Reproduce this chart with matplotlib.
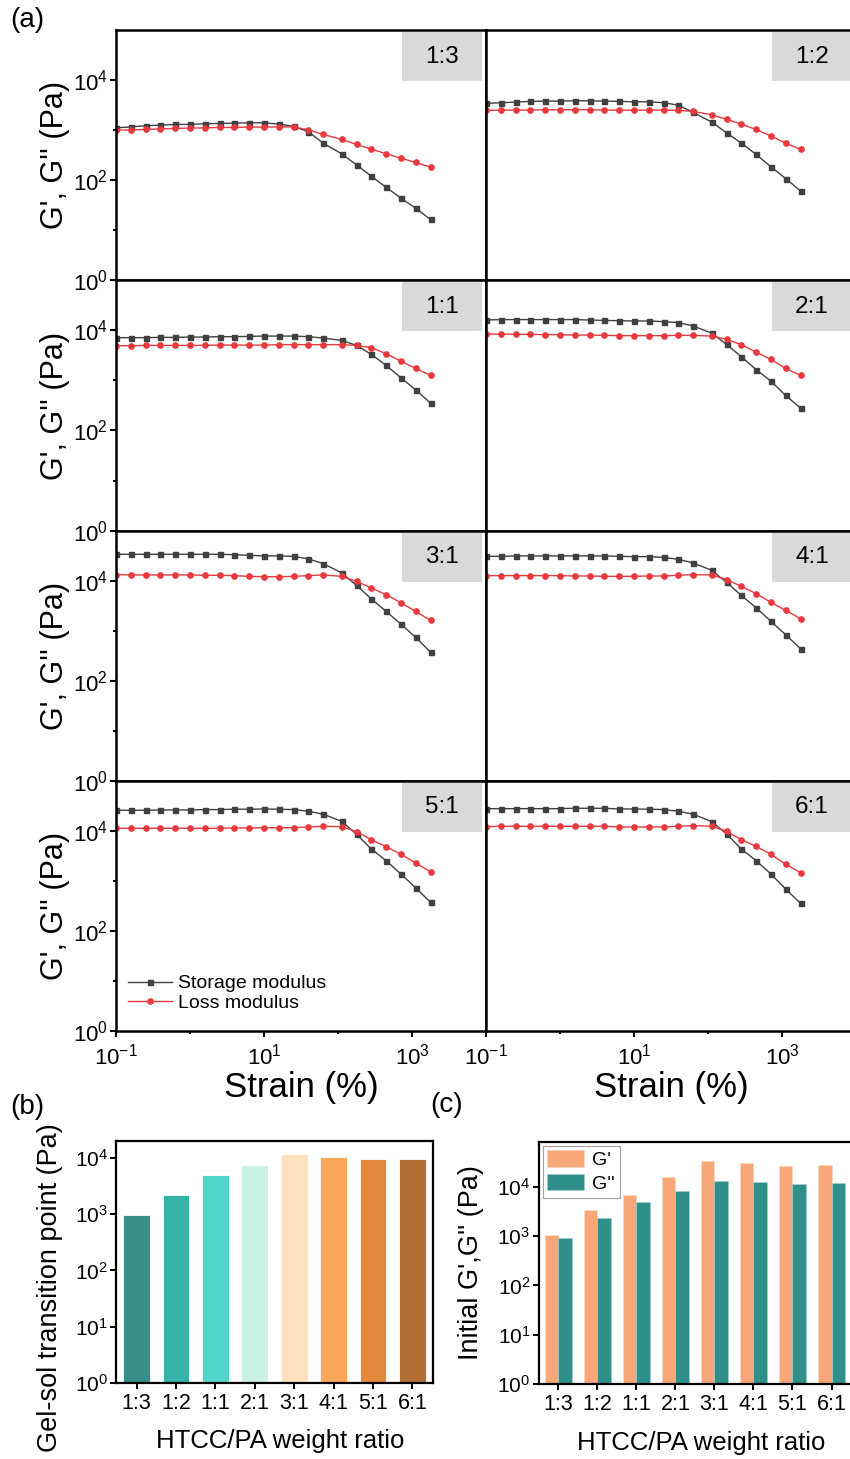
import matplotlib
matplotlib.use("Agg")
import matplotlib.pyplot as plt
from matplotlib.patches import Rectangle
from matplotlib.ticker import FixedLocator, NullFormatter, LogFormatterSciNotation

plt.rcParams["font.family"] = ["Liberation Sans", "DejaVu Sans"]
plt.rcParams["mathtext.fontset"] = "custom"
plt.rcParams["mathtext.rm"] = "Liberation Sans"
plt.rcParams["mathtext.it"] = "Liberation Sans:italic"
plt.rcParams["mathtext.bf"] = "Liberation Sans:bold"

W, H = 850, 1459

ratios = ["1:3", "1:2", "1:1", "2:1", "3:1", "4:1", "5:1", "6:1"]

# strain sweep (%)
strain = [0.1, 0.158, 0.251, 0.398, 0.631, 1.0, 1.58, 2.51, 3.98, 6.31, 10.0,
          15.8, 25.1, 39.8, 63.1, 112, 178, 282, 447, 708, 1120, 1780]

# storage (G') and loss (G'') modulus, Pa
gp_13 = [1110, 1160, 1220, 1260, 1300, 1300, 1340, 1360, 1380, 1400, 1400,
         1320, 1190, 925, 550, 336, 202, 120, 72, 44, 27.5, 16.4]
gpp_13 = [1000, 1010, 1030, 1060, 1080, 1100, 1110, 1130, 1130, 1150, 1150,
          1160, 1160, 1010, 820, 652, 518, 417, 336, 275, 226, 182]
gp_12 = [3420, 3520, 3630, 3750, 3800, 3800, 3860, 3860, 3800, 3750, 3680,
         3680, 3520, 3160, 2260, 1450, 883, 550, 327, 185, 108, 61]
gpp_12 = [2480, 2510, 2510, 2510, 2550, 2550, 2550, 2550, 2510, 2510, 2480,
          2510, 2510, 2480, 2370, 2020, 1640, 1320, 1030, 759, 550, 411]
gp_11 = [7150, 7150, 7150, 7240, 7240, 7350, 7350, 7480, 7480, 7590, 7690,
         7690, 7690, 7480, 7020, 6310, 5010, 3310, 2000, 1130, 652, 352]
gpp_11 = [4940, 4940, 5010, 5010, 5010, 5010, 5010, 5080, 5080, 5080, 5080,
          5180, 5180, 5180, 5180, 5180, 5010, 4510, 3420, 2430, 1740, 1260]
gp_21 = [16100, 16400, 16400, 16400, 16400, 16400, 16400, 16100, 15800, 15600, 15400,
         15400, 14900, 14300, 12200, 8830, 5250, 2980, 1640, 968, 501, 279]
gpp_21 = [8430, 8430, 8320, 8320, 8200, 8200, 8050, 8050, 7940, 7830, 7830,
          7830, 7830, 7940, 7940, 7690, 6610, 5180, 3680, 2630, 1740, 1260]
gp_31 = [33600, 33600, 33600, 33600, 33600, 33600, 33600, 33600, 33100, 32100, 31200,
         31200, 30600, 27200, 21900, 14300, 8050, 4310, 2430, 1360, 735, 375]
gpp_31 = [13200, 13000, 13000, 13000, 13000, 13000, 12800, 12800, 12600, 12200, 12000,
          12000, 12200, 12600, 13000, 12200, 9680, 7150, 5250, 3630, 2430, 1610]
gp_41 = [30600, 30600, 31200, 31200, 31200, 31200, 31200, 31200, 31200, 30600, 30200,
         30200, 29200, 26700, 22600, 16100, 9250, 5080, 2880, 1540, 832, 437]
gpp_41 = [12600, 12600, 12600, 12600, 12600, 12600, 12400, 12400, 12200, 12200, 12200,
          12400, 12400, 12800, 13200, 13000, 10500, 7690, 5500, 3680, 2550, 1740]
gp_51 = [25900, 25900, 25900, 26300, 26300, 26300, 26700, 26700, 27200, 27200, 27500,
         27200, 26700, 24800, 21600, 15600, 8590, 4370, 2550, 1380, 735, 375]
gpp_51 = [11300, 11300, 11300, 11300, 11300, 11300, 11300, 11300, 11500, 11500, 11600,
          11600, 11600, 12000, 12400, 12200, 9680, 6700, 4850, 3420, 2290, 1540]
gp_61 = [27900, 27900, 27900, 27900, 27900, 27900, 28400, 28400, 28400, 27500, 27500,
         27200, 26700, 24800, 21600, 15400, 8710, 4370, 2550, 1380, 692, 358]
gpp_61 = [12200, 12400, 12400, 12400, 12400, 12400, 12400, 12400, 12400, 12000, 12000,
          12000, 12000, 12400, 12800, 12400, 9860, 6700, 4940, 3420, 2160, 1470]

storage = [gp_13, gp_12, gp_11, gp_21, gp_31, gp_41, gp_51, gp_61]
loss = [gpp_13, gpp_12, gpp_11, gpp_21, gpp_31, gpp_41, gpp_51, gpp_61]

# (b) gel-sol transition point, Pa
gel_sol = [950, 2180, 4900, 7450, 11800, 10300, 9600, 9400]
bar_colors = ["#378f87", "#35b3a8", "#52d6c9", "#c9f1e5",
              "#fde1bf", "#fba75a", "#e2893c", "#b26f35"]

# (c) initial moduli, Pa
init_gp = [1040, 3330, 6900, 15900, 33000, 29700, 26300, 27000]
init_gpp = [930, 2350, 4800, 8200, 13000, 12400, 11400, 11700]

BLACK = "#404040"
RED = "#e8393f"


def rect(left, top, right, bottom):
    return [left / W, 1 - bottom / H, (right - left) / W, (bottom - top) / H]


def style_spines(ax, lw=1.8):
    for sp in ax.spines.values():
        sp.set_linewidth(lw)
        sp.set_color("black")


fig = plt.figure(figsize=(W / 100, H / 100), dpi=100)

row_h = 250.3
cols = [(116, 486), (486, 856)]
for i, name in enumerate(ratios):
    r, c = divmod(i, 2)
    top = 30 + row_h * r
    ax = fig.add_axes(rect(cols[c][0], top, cols[c][1], top + row_h))
    ax.plot(strain, storage[i], "-s", color=BLACK, lw=1.0, ms=3.6, label="Storage modulus")
    ax.plot(strain, loss[i], "-o", color=RED, lw=1.0, ms=3.8, label="Loss modulus")
    ax.set_xscale("log")
    ax.set_yscale("log")
    ax.set_xlim(0.1, 1e4)
    ax.set_ylim(1, 1e5)
    style_spines(ax)
    ax.add_patch(Rectangle((0.773, 0.796), 0.216, 0.196, transform=ax.transAxes,
                           facecolor="#d9d9d9", edgecolor="none", zorder=0))
    ax.text(0.881, 0.894, name, transform=ax.transAxes, ha="center", va="center",
            fontsize=17.5)

    ax.xaxis.set_major_locator(FixedLocator([0.1, 10, 1000]))
    ax.xaxis.set_minor_locator(FixedLocator([1, 100]))
    ax.yaxis.set_major_locator(FixedLocator([1, 100, 1e4]))
    ax.yaxis.set_minor_locator(FixedLocator([10, 1000]))
    ax.xaxis.set_major_formatter(LogFormatterSciNotation())
    ax.yaxis.set_major_formatter(LogFormatterSciNotation())
    ax.xaxis.set_minor_formatter(NullFormatter())
    ax.yaxis.set_minor_formatter(NullFormatter())
    ax.tick_params(which="both", direction="out", width=1.5, labelsize=16)
    ax.tick_params(axis="y", pad=2)
    ax.tick_params(axis="x", pad=5)
    ax.tick_params(which="major", length=4)
    ax.tick_params(which="minor", length=2.5)

    if r < 3:
        ax.tick_params(axis="x", which="both", length=0, labelbottom=False)
    if c == 1:
        ax.tick_params(axis="y", which="both", length=0, labelleft=False)
    else:
        fig.text(55 / W, 1 - (top + row_h / 2) / H, "G', G'' (Pa)", rotation=90,
                 ha="center", va="center", fontsize=22)

    if i == 6:
        ax.legend(loc="lower left", bbox_to_anchor=(0.0, 0.03), frameon=False,
                  fontsize=14, handlelength=2.3, handletextpad=0.3, labelspacing=0.1,
                  borderaxespad=0.2)

fig.text(301 / W, 1 - 1087 / H, "Strain (%)", ha="center", va="center", fontsize=25)
fig.text(671 / W, 1 - 1087 / H, "Strain (%)", ha="center", va="center", fontsize=25)

x = list(range(len(ratios)))

# (b)
axb = fig.add_axes(rect(116, 1141, 433, 1383))
axb.bar(x, gel_sol, width=0.68, color=bar_colors, edgecolor="white", linewidth=0.6)
axb.set_yscale("log")
axb.set_ylim(1, 10 ** 4.3)
axb.set_xlim(-0.52, 7.52)
axb.set_xticks(x)
axb.set_xticklabels(ratios)
axb.yaxis.set_major_locator(FixedLocator([1, 10, 100, 1000, 1e4]))
axb.yaxis.set_minor_locator(FixedLocator([]))
axb.yaxis.set_major_formatter(LogFormatterSciNotation())
style_spines(axb, 1.6)
axb.tick_params(axis="x", direction="out", length=4, width=1.4, labelsize=15.5, pad=3)
axb.tick_params(axis="y", direction="out", length=4, width=1.4, labelsize=15, pad=2)
fig.text(50 / W, 1 - 1288 / H, "Gel-sol transition point (Pa)", rotation=90,
         ha="center", va="center", fontsize=19.5)
fig.text(280 / W, 1 - 1441 / H, "HTCC/PA weight ratio", ha="center", va="center",
         fontsize=18.5)

# (c)
axc = fig.add_axes(rect(538.7, 1141.7, 853, 1384.3))
bw = 0.345
axc.bar([v - bw / 2 for v in x], init_gp, width=bw, color="#f8a878",
        edgecolor="#fbd6bf", linewidth=0.5, label="G'")
axc.bar([v + bw / 2 for v in x], init_gpp, width=bw, color="#2e9088",
        edgecolor="#9fd0cb", linewidth=0.5, label="G''")
axc.set_yscale("log")
axc.set_ylim(1, 10 ** 4.91)
axc.set_xlim(-0.5, 7.55)
axc.set_xticks(x)
axc.set_xticklabels(ratios)
axc.yaxis.set_major_locator(FixedLocator([1, 10, 100, 1000, 1e4]))
axc.yaxis.set_minor_locator(FixedLocator([]))
axc.yaxis.set_major_formatter(LogFormatterSciNotation())
style_spines(axc, 1.6)
axc.tick_params(axis="x", direction="out", length=4, width=1.4, labelsize=15.5, pad=3)
axc.tick_params(axis="y", direction="out", length=4, width=1.4, labelsize=15, pad=2)
leg = axc.legend(loc="upper left", fontsize=14, handlelength=1.9, handleheight=0.9,
                 handletextpad=0.4, labelspacing=0.25, borderpad=0.25,
                 borderaxespad=0.2, fancybox=False, framealpha=1)
leg.get_frame().set_edgecolor("#a0a0a0")
leg.get_frame().set_linewidth(0.8)
fig.text(471 / W, 1 - 1263 / H, "Initial G',G'' (Pa)", rotation=90,
         ha="center", va="center", fontsize=19.5)
fig.text(701 / W, 1 - 1443 / H, "HTCC/PA weight ratio", ha="center", va="center",
         fontsize=18.5)

fig.text(27 / W, 1 - 20 / H, "(a)", ha="center", va="center", fontsize=20)
fig.text(27 / W, 1 - 1107 / H, "(b)", ha="center", va="center", fontsize=20)
fig.text(447 / W, 1 - 1105 / H, "(c)", ha="center", va="center", fontsize=20)

fig.savefig("out.png", dpi=100)
